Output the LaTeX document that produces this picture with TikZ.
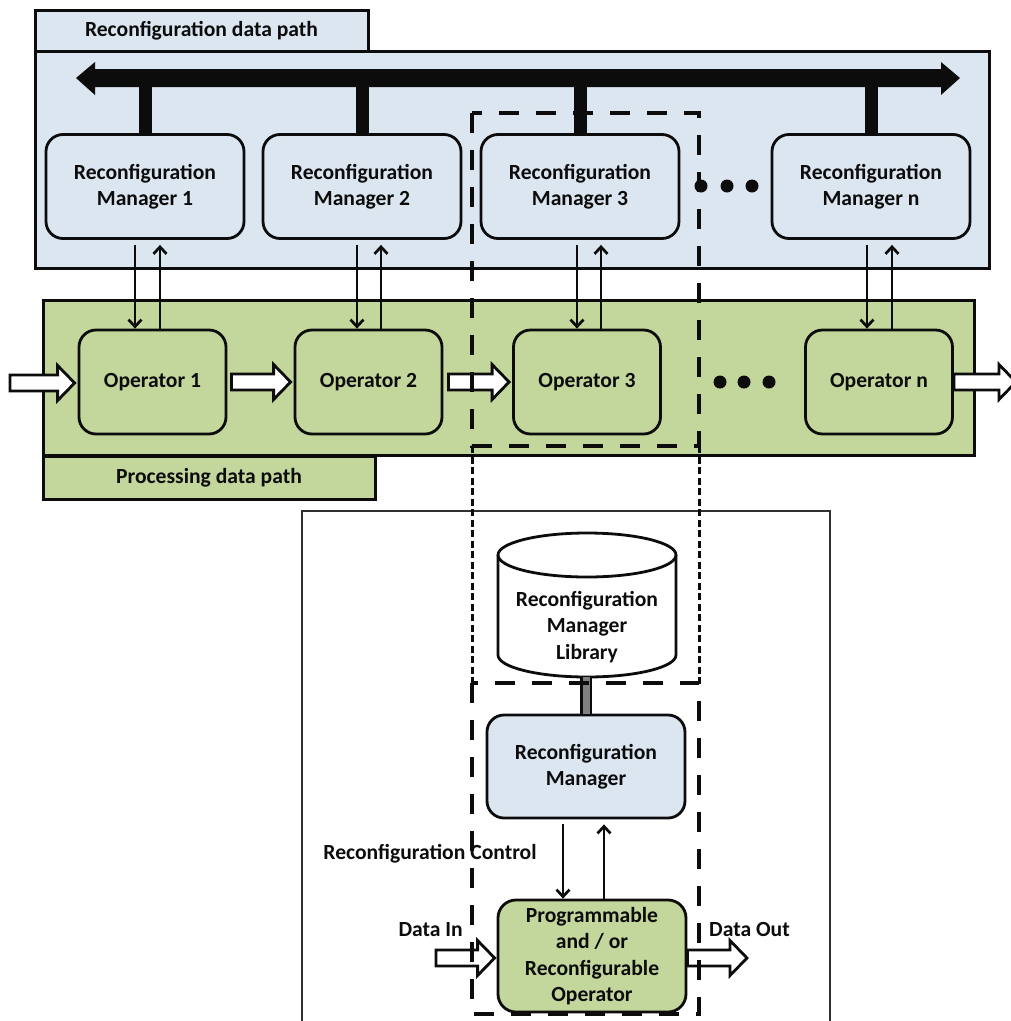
\documentclass[tikz,border=0pt]{standalone}
\usepackage{fontspec}
\setmainfont{Carlito}
\usetikzlibrary{arrows.meta,calc}
\definecolor{bfill}{RGB}{220,230,241}
\definecolor{gfill}{RGB}{195,214,155}
\definecolor{ink}{RGB}{12,12,12}
\definecolor{linkgray}{RGB}{128,128,128}
\newcommand\blkarrow[2]{%
  \draw[blockarrow] let \p1=(#1), \p2=(#2) in
    (\x1,\y1+8pt) -- (\x2-17pt,\y1+8pt) -- (\x2-17pt,\y1+17.5pt) -- (\x2,\y1)
    -- (\x2-17pt,\y1-17.5pt) -- (\x2-17pt,\y1-8pt) -- (\x1,\y1-8pt) -- cycle;}
\newcommand\pairlinks[4]{%
  \draw[conn] let \p1=(#1.south), \p2=(#2.north) in (#3pt,\y1-5pt) -- (#3pt,\y2);
  \draw[conn] let \p1=(#1.south), \p2=(#2.north) in (#4pt,\y2) -- (#4pt,\y1-5pt);}
\begin{document}
\begin{tikzpicture}[x=1pt,y=-1pt,
  txt/.style={font=\bfseries\fontsize{21.6}{26.5}\selectfont, text=ink, align=center, inner sep=0pt},
  panel/.style={draw=ink, line width=3pt, inner sep=0pt},
  mgr/.style={txt, draw=ink, fill=bfill, line width=2.8pt, rounded corners=17pt,
              minimum width=198pt, minimum height=104pt},
  opbox/.style={txt, draw=ink, fill=gfill, line width=2.8pt, rounded corners=17pt,
              minimum width=147pt, minimum height=104pt},
  conn/.style={draw=ink, line width=2.7pt, -{Straight Barb[length=7pt,width=13pt]}},
  blockarrow/.style={draw=ink, fill=white, line width=2.8pt, line join=miter},
  stub/.style={draw=ink, line width=13pt},
  thickdash/.style={draw=ink, line width=4.5pt, dash pattern=on 20pt off 17pt},
  thindash/.style={draw=ink, line width=3pt, dash pattern=on 7pt off 3.5pt},
  dot/.style={fill=ink, circle, inner sep=0pt, minimum size=13pt}]
\useasboundingbox (0,0) rectangle (1011,1021);
\fill[white] (0,0) rectangle (1011,1021);

% ---------- reconfiguration data path ----------
\node[panel, fill=bfill, minimum width=954pt, minimum height=217pt] (rpanel) at (512,159.5) {};
\node[panel, fill=bfill, txt, minimum width=333pt, minimum height=41pt] (rtab) at (201.5,31) {Reconfiguration data path};

% bus
\fill[ink] (76,78) -- (95,62) -- (95,69) -- (941,69) -- (941,62) -- (960,78)
  -- (941,95) -- (941,87) -- (95,87) -- (95,95) -- cycle;
\coordinate (bus) at (0,78);

\node[mgr] (m1) at (145,186.5) {Reconfiguration\\Manager 1};
\node[mgr] (m2) at (362,186.5) {Reconfiguration\\Manager 2};
\node[mgr] (m3) at (580,186.5) {Reconfiguration\\Manager 3};
\node[mgr] (mn) at (871,186.5) {Reconfiguration\\Manager n};

\foreach \m in {m1,m2,m3,mn} \draw[stub] (\m.north) -- (\m.north |- bus);

\node[dot] (d1) at (701,186) {};
\node[dot] (d2) at (727,186) {};
\node[dot] (d3) at (752,186) {};

% ---------- processing data path ----------
\node[panel, fill=gfill, minimum width=931pt, minimum height=155pt] (gpanel) at (508.5,377.5) {};
\node[panel, fill=gfill, txt, minimum width=332pt, minimum height=43pt] (gtab) at (209,477.5) {Processing data path};

\node[opbox] (o1) at (152.5,382) {Operator 1};
\node[opbox] (o2) at (368.5,382) {Operator 2};
\node[opbox] (o3) at (587,382) {Operator 3};
\node[opbox] (on) at (879,382) {Operator n};

\node[dot] (e1) at (720,382) {};
\node[dot] (e2) at (744,382) {};
\node[dot] (e3) at (769,382) {};

\coordinate (din) at (10,383);
\coordinate (dout) at (1016,383);
\blkarrow{din}{$(o1.west)+(-3,0)$}
\blkarrow{$(o1.east)+(4,0)$}{$(o2.west)+(-3,0)$}
\blkarrow{$(o2.east)+(5,0)$}{$(o3.west)+(-3,0)$}
\blkarrow{on.east}{dout}

\pairlinks{m1}{o1}{135}{160}
\pairlinks{m2}{o2}{357}{381}
\pairlinks{m3}{o3}{577}{601}
\pairlinks{mn}{on}{867}{892}

% ---------- detail ----------
\draw[draw=ink!85, line width=1.3pt] (302,1030) -- (302,511) -- (830,511) -- (830,1030);

% library cylinder
\draw[draw=ink, fill=white, line width=2.8pt]
  (498,555) -- (498,655) arc[start angle=180, end angle=0, x radius=89, y radius=22]
  -- (676,555) arc[start angle=0, end angle=-180, x radius=89, y radius=22] -- cycle;
\draw[draw=ink, line width=2.8pt] (498,555) arc[start angle=180, end angle=0, x radius=89, y radius=22];
\node[txt] (lib) at (587,627) {Reconfiguration\\Manager\\Library};
\coordinate (libbot) at (586,677);

\node[mgr, minimum height=103pt] (rm) at (586,766.5) {Reconfiguration\\Manager};
\draw[ink, line width=12pt] (libbot) -- (rm.north);
\draw[linkgray, line width=7pt] (libbot) -- (rm.north);

\node[opbox, minimum width=188pt, minimum height=112pt, rounded corners=18pt] (po) at (592,956)
  {Programmable\\and / or\\Reconfigurable\\Operator};

\draw[conn] ($(rm.south)+(-23,5)$) -- ($(po.north)+(-29,0)$);
\draw[conn] ($(po.north)+(12,0)$) -- ($(rm.south)+(18,5)$);

\node[txt, anchor=center] (rc) at (430,854) {Reconfiguration Control};
\node[txt, anchor=east] (dil) at (463,930) {Data In};
\node[txt, anchor=west] (dol) at (709,929) {Data Out};

\coordinate (pin) at (436,958);
\coordinate (pout) at (747,958);
\blkarrow{pin}{$(po.west |- pin)+(-2,0)$}
\blkarrow{po.east |- pout}{pout}

% ---------- dashed outlines ----------
\draw[thickdash] (472,113) rectangle (699,446);
\draw[thindash] (472,446) -- (472,683);
\draw[thindash] (699,446) -- (699,683);
\draw[thickdash] (472,683) rectangle (699,1014);
\end{tikzpicture}
\end{document}
